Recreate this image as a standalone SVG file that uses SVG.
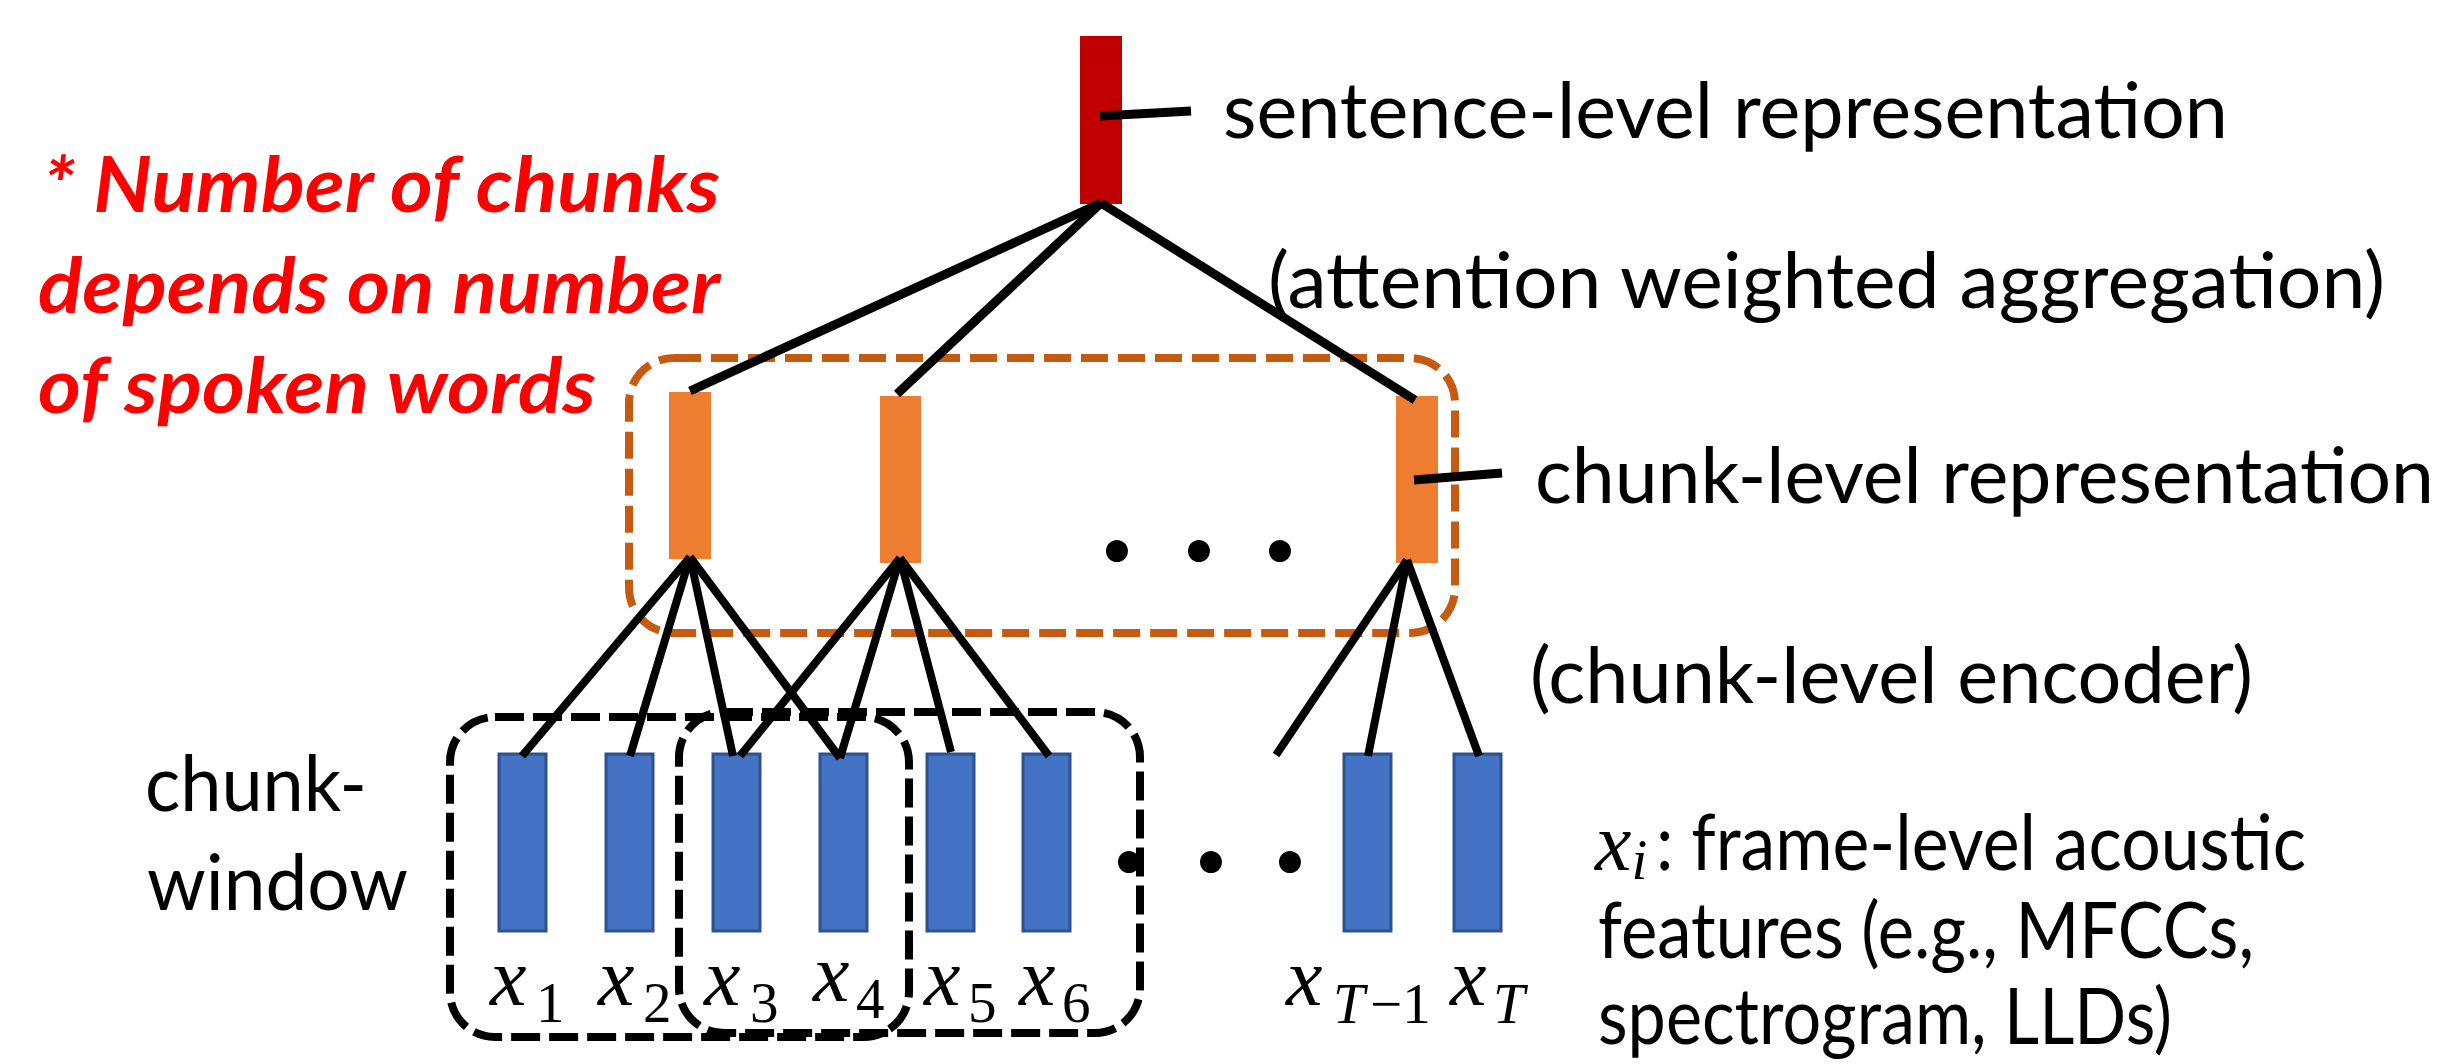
<svg xmlns="http://www.w3.org/2000/svg" width="2454" height="1064" viewBox="0 0 2454 1064">
<style>
.lbl{font-family:Lato,"Open Sans",sans-serif;font-size:78px;fill:#000}
.note{font-family:Lato,"Open Sans",sans-serif;font-size:76px;font-weight:bold;font-style:italic;fill:#FF0000}
.mx{font-family:"Liberation Serif","DejaVu Serif",serif;font-style:italic;font-size:82px;fill:#000}
.sub{font-family:"Liberation Serif","DejaVu Serif",serif;font-size:57px;fill:#000}
.subi{font-family:"Liberation Serif","DejaVu Serif",serif;font-style:italic;font-size:57px;fill:#000}
.dots{font-family:Lato,"DejaVu Sans",sans-serif;font-weight:bold;font-size:145px;fill:#000}
.frame{fill:#4472C4;stroke:#2F528F;stroke-width:3}
.chunk{fill:#ED7D31}
.sent{fill:#C00000}
.win{fill:none;stroke:#000;stroke-width:8;stroke-dasharray:29 9}
.grp{fill:none;stroke:#C55A11;stroke-width:8;stroke-dasharray:27 10}
.ln{stroke:#000;stroke-width:9;fill:none}
.ln2{stroke:#000;stroke-width:8;fill:none}
</style>
<rect width="2454" height="1064" fill="#fff"/>

<g id="chunk-window-1"><rect class="win" x="450" y="717" width="459" height="320" rx="45"/></g>
<g id="chunk-window-2"><rect class="win" x="679" y="712" width="461" height="321" rx="45"/></g>
<g id="chunk-group"><rect class="grp" x="629" y="358" width="826" height="275" rx="45"/></g>

<g id="sentence-node"><rect class="sent" x="1080" y="36" width="42" height="168"/></g>
<g id="chunk-1"><rect class="chunk" x="669" y="392" width="42" height="167"/></g>
<g id="chunk-2"><rect class="chunk" x="880" y="396" width="41" height="167"/></g>
<g id="chunk-3"><rect class="chunk" x="1396" y="396" width="42" height="167"/></g>

<g id="frame-1"><rect class="frame" x="499" y="754" width="47" height="177"/></g>
<g id="frame-2"><rect class="frame" x="606" y="754" width="47" height="177"/></g>
<g id="frame-3"><rect class="frame" x="713" y="754" width="47" height="177"/></g>
<g id="frame-4"><rect class="frame" x="820" y="754" width="47" height="177"/></g>
<g id="frame-5"><rect class="frame" x="927" y="754" width="47" height="177"/></g>
<g id="frame-6"><rect class="frame" x="1023" y="754" width="47" height="177"/></g>
<g id="frame-T-1"><rect class="frame" x="1344" y="754" width="47" height="177"/></g>
<g id="frame-T"><rect class="frame" x="1454" y="754" width="47" height="177"/></g>

<g id="connectors">
<line class="ln" x1="1101" y1="203" x2="690" y2="391"/>
<line class="ln" x1="1101" y1="203" x2="897" y2="394"/>
<line class="ln" x1="1101" y1="203" x2="1415" y2="400"/>
<line class="ln" x1="1100" y1="116" x2="1191" y2="111"/>
<line class="ln" x1="1414" y1="480" x2="1502" y2="473"/>
<line class="ln2" x1="690" y1="557" x2="522" y2="756"/>
<line class="ln2" x1="690" y1="557" x2="630" y2="756"/>
<line class="ln2" x1="690" y1="557" x2="733" y2="756"/>
<line class="ln2" x1="690" y1="557" x2="840" y2="758"/>
<line class="ln2" x1="900" y1="558" x2="740" y2="756"/>
<line class="ln2" x1="900" y1="558" x2="840" y2="758"/>
<line class="ln2" x1="900" y1="558" x2="951" y2="752"/>
<line class="ln2" x1="900" y1="558" x2="1049" y2="756"/>
<line class="ln2" x1="1407" y1="560" x2="1276" y2="755"/>
<line class="ln2" x1="1407" y1="560" x2="1368" y2="756"/>
<line class="ln2" x1="1407" y1="560" x2="1479" y2="756"/>
</g>

<g id="dots-chunk"><text class="dots" x="1117 1199 1280" y="561" text-anchor="middle">...</text></g>
<g id="dots-frame"><text class="dots" x="1129 1211 1290" y="872" text-anchor="middle">...</text></g>

<g id="labels">
<text class="lbl" x="1223" y="138" textLength="1005" lengthAdjust="spacingAndGlyphs">sentence-level representation</text>
<text class="lbl" x="1268" y="308" textLength="1117" lengthAdjust="spacingAndGlyphs">(attention weighted aggregation)</text>
<text class="lbl" x="1535" y="503" textLength="899" lengthAdjust="spacingAndGlyphs">chunk-level representation</text>
<text class="lbl" x="1530" y="703" textLength="723" lengthAdjust="spacingAndGlyphs">(chunk-level encoder)</text>
<text class="lbl" x="145" y="811" textLength="222" lengthAdjust="spacingAndGlyphs">chunk-</text>
<text class="lbl" x="147" y="910" textLength="261" lengthAdjust="spacingAndGlyphs">window</text>
<text class="lbl" x="1595" y="870"><tspan class="mx">x</tspan><tspan class="subi" dy="9">i</tspan><tspan x="1656" dy="-9" textLength="650" lengthAdjust="spacingAndGlyphs">: frame-level acoustic</tspan></text>
<text class="lbl" x="1598" y="958" textLength="656" lengthAdjust="spacingAndGlyphs">features (e.g., MFCCs,</text>
<text class="lbl" x="1598" y="1044" textLength="574" lengthAdjust="spacingAndGlyphs">spectrogram, LLDs)</text>
</g>

<g id="note">
<text class="note" x="43" y="212" textLength="677" lengthAdjust="spacingAndGlyphs">* Number of chunks</text>
<text class="note" x="38" y="313" textLength="682" lengthAdjust="spacingAndGlyphs">depends on number</text>
<text class="note" x="38" y="413" textLength="558" lengthAdjust="spacingAndGlyphs">of spoken words</text>
</g>

<g id="frame-labels">
<text class="mx" x="490" y="1005">x</text><text class="sub" x="536" y="1022">1</text>
<text class="mx" x="598" y="1005">x</text><text class="sub" x="643" y="1022">2</text>
<text class="mx" x="704" y="1005">x</text><text class="sub" x="750" y="1022">3</text>
<text class="mx" x="813" y="1001">x</text><text class="sub" x="856" y="1018">4</text>
<text class="mx" x="924" y="1005">x</text><text class="sub" x="968" y="1022">5</text>
<text class="mx" x="1019" y="1005">x</text><text class="sub" x="1062" y="1022">6</text>
<text class="mx" x="1286" y="1005">x</text><text class="subi" x="1333" y="1023">T</text><text class="sub" x="1370" y="1023">−1</text>
<text class="mx" x="1450" y="1005">x</text><text class="subi" x="1493" y="1023">T</text>
</g>
</svg>
